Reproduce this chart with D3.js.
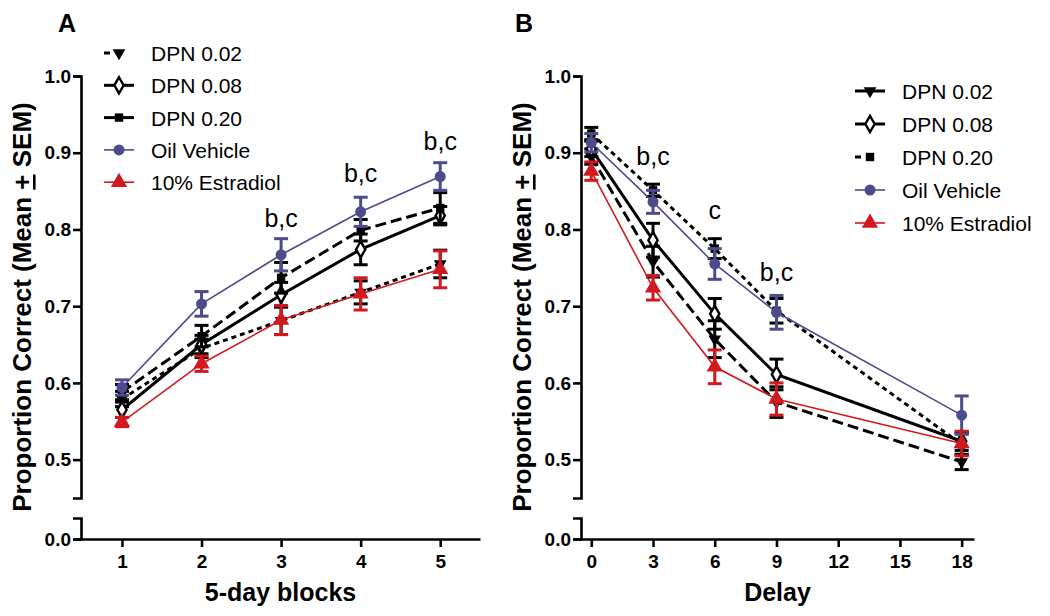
<!DOCTYPE html>
<html>
<head>
<meta charset="utf-8">
<script src="https://cdn.jsdelivr.net/npm/d3@7.8.5/dist/d3.min.js"></script>
<style>
  body { margin: 0; background: #fff; }
  svg { display: block; font-family: Arial, "Liberation Sans", sans-serif; }
</style>
</head>
<body>
<div id="chart"></div>
<script>
// ---- data ----
const seriesNames = ["DPN 0.02", "DPN 0.08", "DPN 0.20", "Oil Vehicle", "10% Estradiol"];

// Panel A: 5-day blocks
const blocks = [1, 2, 3, 4, 5];
const blockTicks = [1, 2, 3, 4, 5];
const aDpn002 = [0.579, 0.645, 0.681, 0.718, 0.755];
const aDpn002Sem = [0.010, 0.012, 0.018, 0.015, 0.018];
const aDpn008 = [0.565, 0.650, 0.715, 0.774, 0.818];
const aDpn008Sem = [0.010, 0.012, 0.016, 0.020, 0.012];
const aDpn020 = [0.588, 0.661, 0.737, 0.799, 0.828];
const aDpn020Sem = [0.010, 0.014, 0.020, 0.014, 0.020];
const aOil = [0.594, 0.703, 0.767, 0.823, 0.869];
const aOilSem = [0.010, 0.016, 0.021, 0.019, 0.018];
const aEst = [0.549, 0.625, 0.682, 0.716, 0.748];
const aEstSem = [0.006, 0.010, 0.019, 0.021, 0.024];
const aMarks = [{ x: 3, text: "b,c", y: 0.803 }, { x: 4, text: "b,c", y: 0.862 }, { x: 5, text: "b,c", y: 0.903 }];

// Panel B: delay
const delays = [0, 3, 6, 9, 18];
const delayTicks = [0, 3, 6, 9, 12, 15, 18];
const bDpn002 = [0.895, 0.758, 0.657, 0.575, 0.497];
const bDpn002Sem = [0.010, 0.020, 0.024, 0.020, 0.010];
const bDpn008 = [0.905, 0.786, 0.690, 0.611, 0.524];
const bDpn008Sem = [0.010, 0.022, 0.020, 0.020, 0.012];
const bDpn020 = [0.925, 0.851, 0.775, 0.694, 0.520];
const bDpn020Sem = [0.008, 0.008, 0.013, 0.016, 0.014];
const bOil = [0.913, 0.836, 0.755, 0.692, 0.558];
const bOilSem = [0.012, 0.015, 0.020, 0.022, 0.025];
const bEst = [0.876, 0.724, 0.621, 0.579, 0.521];
const bEstSem = [0.012, 0.016, 0.022, 0.021, 0.016];
const bMarks = [{ x: 3, text: "b,c", y: 0.884 }, { x: 6, text: "c", y: 0.813 }, { x: 9, text: "b,c", y: 0.733 }];

const yTicks = [0.5, 0.6, 0.7, 0.8, 0.9, 1.0];

const purple = "#4d4a8e";
const red = "#d01a1f";

const svg = d3.select("#chart").append("svg")
  .attr("width", 1050)
  .attr("height", 616);

function symbolPath(kind) {
  if (kind === "tri-down") return d3.symbol(d3.symbolTriangle, 70)();
  if (kind === "diamond") return d3.symbol(d3.symbolDiamond, 75)();
  if (kind === "square") return d3.symbol(d3.symbolSquare, 70)();
  if (kind === "circle") return d3.symbol(d3.symbolCircle, 95)();
  return d3.symbol(d3.symbolTriangle, 115)();
}

function addMarker(g, kind, color, x, y) {
  const p = g.append("path")
    .attr("d", symbolPath(kind))
    .attr("transform", `translate(${x},${y})` + (kind === "tri-down" ? " rotate(180)" : ""));
  if (kind === "diamond") {
    p.attr("fill", "#fff").attr("stroke", color).attr("stroke-width", 2.4);
  } else {
    p.attr("fill", color);
  }
}

function drawPanel(p) {
  const g = svg.append("g");

  const x = d3.scaleLinear().domain(p.xDomain).range(p.xRange);
  const y = d3.scaleLinear().domain([0.45, 1.0]).range([498, 76]);
  const yLow = d3.scaleLinear().domain([0, 0.05]).range([539, 518]);

  // axes
  const yAxis = g.append("g")
    .attr("transform", `translate(${p.xRange[0]},0)`)
    .call(d3.axisLeft(y).tickValues(yTicks).tickFormat(d3.format(".1f"))
      .tickSize(8).tickSizeOuter(8).tickPadding(2));
  const yAxisLow = g.append("g")
    .attr("transform", `translate(${p.xRange[0]},0)`)
    .call(d3.axisLeft(yLow).tickValues([0]).tickFormat(d3.format(".1f"))
      .tickSize(8).tickSizeOuter(8).tickPadding(2));
  const xAxis = g.append("g")
    .attr("transform", "translate(0,539)")
    .call(d3.axisBottom(x).tickValues(p.xTicks).tickFormat(d3.format("d"))
      .tickSize(8).tickSizeOuter(0).tickPadding(8));

  [yAxis, yAxisLow, xAxis].forEach((a) => {
    a.selectAll(".domain").attr("stroke", "#000").attr("stroke-width", 2.6);
    a.selectAll(".tick line").attr("stroke", "#000").attr("stroke-width", 2.6);
    a.selectAll(".tick text")
      .style("font-size", "19px")
      .style("font-weight", "bold")
      .style("font-family", "Arial, 'Liberation Sans', sans-serif")
      .attr("fill", "#000");
  });

  // titles
  g.append("text")
    .attr("x", p.letterX).attr("y", 32)
    .style("font-size", "25px").style("font-weight", "bold")
    .text(p.letter);

  g.append("text")
    .attr("x", (p.xRange[0] + p.xRange[1]) / 2).attr("y", 601)
    .attr("text-anchor", "middle")
    .style("font-size", "25px").style("font-weight", "bold")
    .text(p.xTitle);

  const yt = g.append("text")
    .attr("transform", `translate(${p.yTitleX},307) rotate(-90)`)
    .attr("text-anchor", "middle")
    .style("font-size", "26px").style("font-weight", "bold");
  yt.append("tspan").text("Proportion Correct (Mean ");
  yt.append("tspan").style("text-decoration", "underline").text("+");
  yt.append("tspan").text(" SEM)");

  // series
  const line = d3.line().x((d) => x(d.x)).y((d) => y(d.v));
  p.series.forEach((s) => {
    const pts = p.xs.map((xv, i) => ({ x: xv, v: s.mean[i], e: s.sem[i] }));
    const sg = g.append("g");

    sg.append("path")
      .datum(pts)
      .attr("d", line)
      .attr("fill", "none")
      .attr("stroke", s.color)
      .attr("stroke-width", s.width)
      .attr("stroke-dasharray", s.dash);

    pts.forEach((d) => {
      const cx = x(d.x);
      sg.append("line")
        .attr("x1", cx).attr("x2", cx)
        .attr("y1", y(d.v - d.e)).attr("y2", y(d.v + d.e))
        .attr("stroke", s.color).attr("stroke-width", 3);
      [d.v - d.e, d.v + d.e].forEach((ev) => {
        sg.append("line")
          .attr("x1", cx - 7).attr("x2", cx + 7)
          .attr("y1", y(ev)).attr("y2", y(ev))
          .attr("stroke", s.color).attr("stroke-width", 3);
      });
      addMarker(sg, s.marker, s.color, cx, y(d.v));
    });
  });

  // significance letters
  p.marks.forEach((m) => {
    g.append("text")
      .attr("x", x(m.x)).attr("y", y(m.y))
      .attr("text-anchor", "middle")
      .style("font-size", "25px")
      .text(m.text);
  });

  // legend
  const lg = g.append("g");
  p.series.forEach((s, i) => {
    const cy = p.legendY + i * p.legendStep;
    lg.append("line")
      .attr("x1", p.legendX).attr("x2", p.legendX + 30)
      .attr("y1", cy).attr("y2", cy)
      .attr("stroke", s.color)
      .attr("stroke-width", s.width)
      .attr("stroke-dasharray", s.legendDash);
    addMarker(lg, s.marker, s.color, p.legendX + 15, cy);
    lg.append("text")
      .attr("x", p.legendX + 47).attr("y", cy + 8)
      .style("font-size", "21px")
      .text(seriesNames[i]);
  });
}

const shortDash = "5,4";
const longDash = "11,5";

drawPanel({
  letter: "A", letterX: 58,
  xDomain: [0.485, 5.5], xRange: [81, 480], xTicks: blockTicks, xs: blocks,
  xTitle: "5-day blocks", yTitleX: 31,
  legendX: 104, legendY: 53, legendStep: 32.3,
  marks: aMarks,
  series: [
    { mean: aDpn002, sem: aDpn002Sem, color: "#000", width: 3, dash: shortDash, legendDash: "6,6,6,12", marker: "tri-down" },
    { mean: aDpn008, sem: aDpn008Sem, color: "#000", width: 3, dash: null, legendDash: null, marker: "diamond" },
    { mean: aDpn020, sem: aDpn020Sem, color: "#000", width: 3, dash: longDash, legendDash: null, marker: "square" },
    { mean: aOil, sem: aOilSem, color: purple, width: 1.6, dash: null, legendDash: null, marker: "circle" },
    { mean: aEst, sem: aEstSem, color: red, width: 1.6, dash: null, legendDash: null, marker: "tri-up" }
  ]
});

drawPanel({
  letter: "B", letterX: 515,
  xDomain: [-0.5, 18.6], xRange: [581, 974], xTicks: delayTicks, xs: delays,
  xTitle: "Delay", yTitleX: 531,
  legendX: 855, legendY: 91, legendStep: 33,
  marks: bMarks,
  series: [
    { mean: bDpn002, sem: bDpn002Sem, color: "#000", width: 3, dash: longDash, legendDash: "12,3,15", marker: "tri-down" },
    { mean: bDpn008, sem: bDpn008Sem, color: "#000", width: 3, dash: null, legendDash: null, marker: "diamond" },
    { mean: bDpn020, sem: bDpn020Sem, color: "#000", width: 3, dash: shortDash, legendDash: "6,6,6,12", marker: "square" },
    { mean: bOil, sem: bOilSem, color: purple, width: 1.6, dash: null, legendDash: null, marker: "circle" },
    { mean: bEst, sem: bEstSem, color: red, width: 1.6, dash: null, legendDash: null, marker: "tri-up" }
  ]
});
</script>
</body>
</html>
